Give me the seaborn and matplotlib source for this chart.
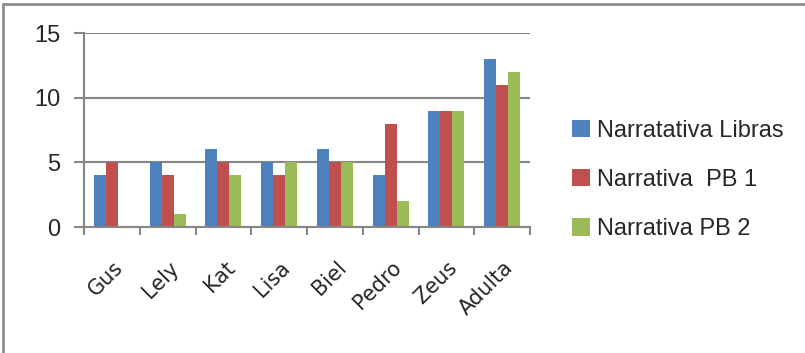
import matplotlib
matplotlib.use("Agg")
import matplotlib.pyplot as plt
from matplotlib.lines import Line2D
from matplotlib.patches import Patch
import seaborn as sns
import pandas as pd
import numpy as np

categories = ["Gus", "Lely", "Kat", "Lisa", "Biel", "Pedro", "Zeus", "Adulta"]
libras = [4, 5, 6, 5, 6, 4, 9, 13]
pb1 = [5, 4, 5, 4, 5, 8, 9, 11]
pb2 = [0, 1, 4, 5, 5, 2, 9, 12]
series_names = ["Narratativa Libras", "Narrativa  PB 1", "Narrativa PB 2"]
colors = ["#4F81BD", "#C0504D", "#9BBB59"]
yticks = [0, 5, 10, 15]

rows = []
for name, vals in zip(series_names, [libras, pb1, pb2]):
    for c, v in zip(categories, vals):
        rows.append({"cat": c, "series": name, "value": v})
df = pd.DataFrame(rows)

sns.set_theme(style="white")
plt.rcParams['font.family'] = ['DejaVu Sans']

fig = plt.figure(figsize=(8.05, 3.53), dpi=100)
ax = fig.add_axes([84/805, 1-227/353, (530-84)/805, (227-33)/353])

sns.barplot(data=df, x="cat", y="value", hue="series", order=categories,
            hue_order=series_names, palette=colors, width=0.65, gap=0,
            ax=ax, legend=False, saturation=1, edgecolor="none")

grid_c = "#868686"
ax.set_ylim(0, 15)
ax.set_xlim(-0.5, len(categories) - 0.5)
ax.set_yticks(yticks)
ax.set_yticklabels([str(t) for t in yticks], fontsize=17, family=['Liberation Sans', 'DejaVu Sans'])
ax.yaxis.grid(True, color=grid_c, linewidth=1.5)
ax.set_axisbelow(True)
ax.tick_params(axis='y', length=7, width=1.5, color=grid_c, pad=10, left=True)
ax.set_xticks(range(len(categories)))
ax.set_xticklabels(categories, rotation=45, ha='right', rotation_mode='anchor', fontsize=15)
ax.tick_params(axis='x', which='major', length=0, pad=22)
ax.set_xticks(np.arange(-0.5, len(categories)), minor=True)
ax.tick_params(axis='x', which='minor', length=6, width=1.5, color=grid_c, bottom=True)
ax.set_xlabel("")
ax.set_ylabel("")
for s in ["top", "right"]:
    ax.spines[s].set_visible(False)
for s in ["left", "bottom"]:
    ax.spines[s].set_color(grid_c)
    ax.spines[s].set_linewidth(1.5)

import matplotlib.transforms as mtransforms
offset = mtransforms.ScaledTranslation(1/100, 0, fig.dpi_scale_trans)
for lbl in ax.get_xticklabels():
    lbl.set_transform(lbl.get_transform() + offset)

handles = [Patch(facecolor=c, edgecolor='none') for c in colors]
fig.legend(handles, series_names, loc='center left', bbox_to_anchor=(551/805, 1-180/353),
           frameon=False, handlelength=0.75, handleheight=0.75,
           handletextpad=0.3, labelspacing=1.15,
           prop={'family': ['Liberation Sans', 'DejaVu Sans'], 'size': 17})

fig.add_artist(Line2D([3/805, 3/805], [0, 1-4/353], transform=fig.transFigure, color="#8c8c8c", linewidth=2))
fig.add_artist(Line2D([3/805, 1], [1-4/353, 1-4/353], transform=fig.transFigure, color="#8c8c8c", linewidth=2))

fig.savefig("out.png", dpi=100)
